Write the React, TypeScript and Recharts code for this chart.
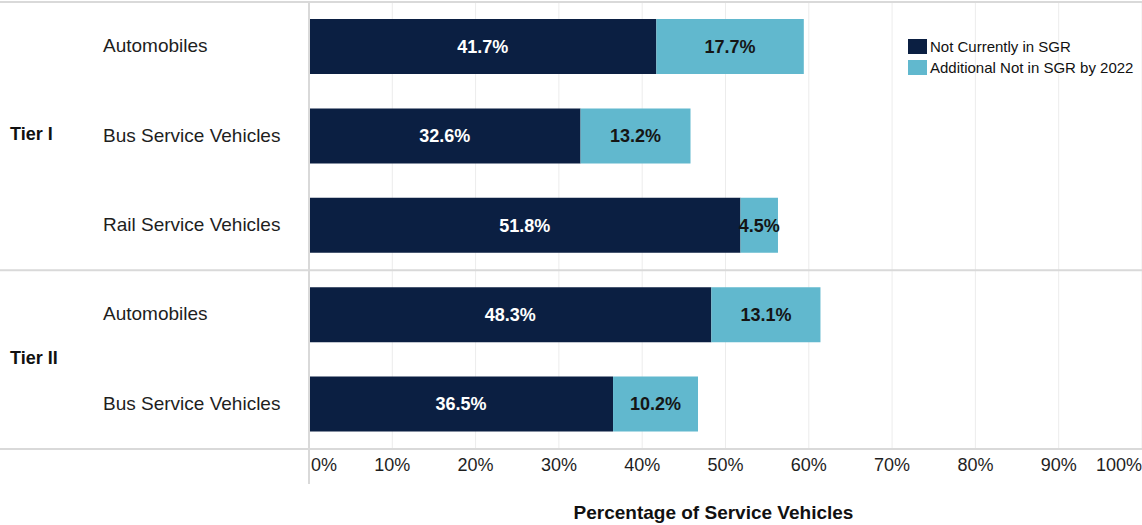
import { BarChart, Bar, XAxis, YAxis, CartesianGrid, LabelList, Label } from "recharts";

const categories = ["Automobiles", "Bus Service Vehicles", "Rail Service Vehicles", "Automobiles", "Bus Service Vehicles"];
const tiers = ["Tier I", "Tier I", "Tier I", "Tier II", "Tier II"];
const notCurrent = [41.7, 32.6, 51.8, 48.3, 36.5];
const additional = [17.7, 13.2, 4.5, 13.1, 10.2];
const xTicks = [0, 10, 20, 30, 40, 50, 60, 70, 80, 90, 100];

const seriesNames = ["Not Currently in SGR", "Additional Not in SGR by 2022"];
const DARK = "#0b1f42";
const LIGHT = "#61b8ce";
const RULE = "#d9d9d9";

const W = 1142;
const H = 525;
const TOP = 2;
const AXIS_W = 309;
const XAXIS_H = 76;
const BAND = (H - TOP - XAXIS_H) / categories.length;

const data = categories.map((name, i) => ({
  key: `${tiers[i]}|${name}`,
  name,
  tier: tiers[i],
  notCurrent: notCurrent[i],
  additional: additional[i],
}));

const pct = (v: number) => `${v.toFixed(1)}%`;

function CategoryTick(props: any) {
  const { y, index } = props;
  const row = data[index];
  const first = index === 0 || data[index - 1].tier !== row.tier;
  const last = index === data.length - 1;
  const tierCount = data.filter((d) => d.tier === row.tier).length;
  return (
    <g>
      {first && <line x1={0} x2={W} y1={y - BAND / 2} y2={y - BAND / 2} stroke={RULE} strokeWidth={2} />}
      {last && <line x1={0} x2={W} y1={y + BAND / 2} y2={y + BAND / 2} stroke={RULE} strokeWidth={2} />}
      {last && <line x1={AXIS_W} x2={AXIS_W} y1={TOP} y2={H - 41} stroke={RULE} strokeWidth={2} />}
      <text x={103} y={y} dy={-1} dominantBaseline="central" fontSize={19} fill="#1e1e1e">
        {row.name}
      </text>
      {first && (
        <text x={10} y={y + ((tierCount - 1) / 2) * BAND} dy={-2} dominantBaseline="central" fontSize={18} fontWeight="bold" fill="#111">
          {row.tier}
        </text>
      )}
    </g>
  );
}

function PercentTick(props: any) {
  const { x, y, payload, index } = props;
  const anchor = index === 0 ? "start" : index === xTicks.length - 1 ? "end" : "middle";
  return (
    <text x={x + (index === 0 ? 2 : 0)} y={y} dy={14} textAnchor={anchor} fontSize={18} fill="#1e1e1e">
      {`${payload.value}%`}
    </text>
  );
}

function LegendBox() {
  const colors = [DARK, LIGHT];
  return (
    <div style={{ position: "absolute", left: 908, top: 36, fontSize: 15, color: "#111", lineHeight: "21px" }}>
      {seriesNames.map((n, i) => (
        <div key={n} style={{ display: "flex", alignItems: "center" }}>
          <span style={{ display: "inline-block", width: 19, height: 15, background: colors[i], marginRight: 3 }} />
          {n}
        </div>
      ))}
    </div>
  );
}

export default function App() {
  return (
    <div style={{ position: "absolute", left: 0, top: 0, width: W, height: H, background: "#fff", fontFamily: "'Liberation Sans', Arial, sans-serif" }}>
      <BarChart width={W} height={H} data={data} layout="vertical" margin={{ top: TOP, right: 0, bottom: 0, left: 0 }}>
        <CartesianGrid horizontal={false} stroke="#ececec" />
        <XAxis
          type="number"
          domain={[0, 100]}
          ticks={xTicks}
          axisLine={false}
          tickLine={false}
          height={XAXIS_H}
          tick={<PercentTick />}
          interval={0}
        >
          <Label
            content={(p: any) => (
              <text x={p.viewBox.x + p.viewBox.width / 2 - 12} y={H - 6} textAnchor="middle" fontSize={19} fontWeight="bold" fill="#111">
                Percentage of Service Vehicles
              </text>
            )}
          />
        </XAxis>
        <YAxis type="category" dataKey="key" width={AXIS_W} axisLine={false} tickLine={false} tick={<CategoryTick />} interval={0} />
        <Bar dataKey="notCurrent" name={seriesNames[0]} stackId="a" fill={DARK} barSize={55} isAnimationActive={false}>
          <LabelList dataKey="notCurrent" position="center" fill="#fff" fontSize={18} fontWeight="bold" formatter={(v: any) => pct(Number(v))} />
        </Bar>
        <Bar dataKey="additional" name={seriesNames[1]} stackId="a" fill={LIGHT} barSize={55} isAnimationActive={false}>
          <LabelList dataKey="additional" position="center" fill="#151515" fontSize={18} fontWeight="bold" formatter={(v: any) => pct(Number(v))} />
        </Bar>
      </BarChart>
      <LegendBox />
    </div>
  );
}
